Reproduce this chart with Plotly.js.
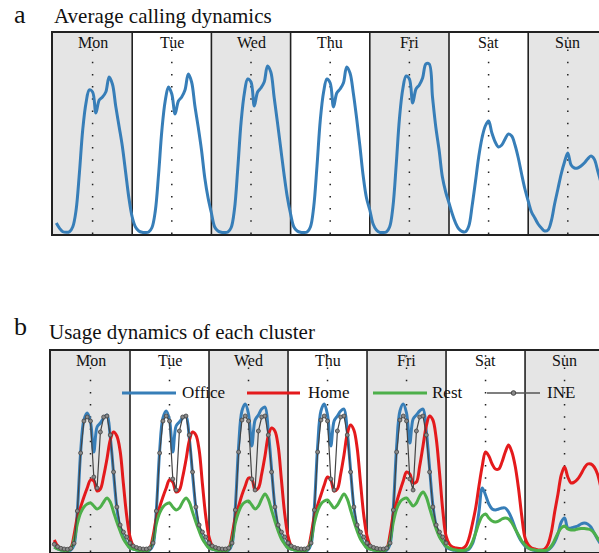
<!DOCTYPE html>
<html><head><meta charset="utf-8">
<script src="https://cdn.plot.ly/plotly-3.0.1.min.js"></script>
<style>html,body{margin:0;padding:0;background:#fff}#chart{width:599px;height:553px}</style>
</head><body><div id="chart"></div>
<script>
// ---------- categories ----------
const days = ['Mon','Tue','Wed','Thu','Fri','Sat','Sun'];
const hourSlots = [1,2,3,4,5,6,7,8,9,10,11,12,13,14,15,16,17,18,19,20,21,22,23,24];

// ---------- panel a: average calling dynamics (hourly, arbitrary units) ----------
const callMon = [11,5.7,2.3,1.7,2.3,7.3,24,61,104,131,144,142,121,134,137,142,157,150,128,108,88,62,36,17];
const callTue = [7,3,1.7,1.5,2,6.5,23,60,104,133,147,140,120,133,137,144,160,152,128,107,84,56,36,21];
const callWed = [7,3,1.7,1.5,2,6.5,25,66,112,141,155,152,128,142,146,152,168,162,137,112,86,60,37,20];
const callThu = [7,3,1.7,1.5,2,7,27,68,114,142,155,151,127,141,145,151,167,161,141,116,88,58,36,24];
const callFri = [10,4,1.7,1.5,2,7,27,69,116,145,158,155,131,145,149,156,170,170,137,107,84,57,42,31];
const callSat = [20,11,5,2.5,2.3,8,28,52,77,96,108,113,101,92,87,89,95,100,98,89,76,60,45,33];
const callSun = [22,16,10,6,3,4,13,30,45,60,72,81,69,66,66,68,71,75,78,75,64,52,40,28];

// ---------- panel b: usage dynamics of each cluster ----------
const officeMon = [5,3,2,1.5,1,2,7,41,100,132,139,130,100,125,129,134,137,115,79,44,24,15,9,4];
const officeTue = [3,2,1.5,1,1,2,7,42,101,134,141,132,100,126,130,134,136,114,78,44,24,15,9,4];
const officeWed = [3,2,1.5,1,1,2,8,45,106,141,148,138,106,132,137,143,145,121,83,46,25,15,9,4];
const officeThu = [3,2,1.5,1,1,2,8,45,106,141,148,137,106,131,136,141,143,120,82,45,25,15,9,4];
const officeFri = [3,2,1.5,1,1,2,8,45,106,141,148,139,109,133,137,141,143,121,84,47,26,16,10,5];
const officeSat = [3,2,1.5,1,1,1.5,3,8,20,40,64,57,48,43,42,43,44,44,40,33,24,16,10,6];
const officeSun = [4,2.5,1.5,1,1,1,2,5,10,18,30,34,24,24,25,26,28,29,28,25,19,13,8,5];

const homeMon = [12,6,3,2,2,4,17,35,45,55,64,72,71,61,63,76,93,112,120,116,101,68,36,15];
const homeTue = [6,3,2,1.5,1.5,3.5,16,34,45,55,64,72,70,60,62,75,92,111,120,117,102,68,36,15];
const homeWed = [6,3,2,1.5,1.5,3.5,17,35,46,57,66,74,73,62,64,78,96,116,124,121,106,72,38,16];
const homeThu = [6,3,2,1.5,1.5,3.5,17,36,47,57,67,75,72,61,63,78,97,118,127,122,104,70,37,16];
const homeFri = [6,3,2,1.5,1.5,3.5,18,38,50,61,71,80,78,69,70,86,106,126,136,132,114,80,42,16];
const homeSat = [8,5,4,3.5,3.5,6,14,28,44,66,86,100,96,88,83,83,90,100,107,100,86,64,36,14];
const homeSun = [7,4,3,2,2,3,8,20,40,58,77,85,75,69,70,73,78,84,88,88,85,78,65,50];

const restMon = [5,3,2,1.5,1.5,3,12,28,39,45,48,49,46,43,45,50,54,50,40,30,21,13,8,4];
const restTue = [3,2,1.5,1.2,1.2,3,11,28,39,45,48,49,45,42,44,50,54,50,40,30,21,13,8,4];
const restWed = [3,2,1.5,1.2,1.2,3,12,29,40,47,50,51,47,43,46,53,58,53,42,31,21,13,8,4];
const restThu = [3,2,1.5,1.2,1.2,3,12,29,41,48,51,52,48,44,47,53,58,53,42,31,21,13,8,4];
const restFri = [3,2,1.5,1.2,1.2,3,12,30,43,50,53,54,50,46,49,56,60,55,44,33,23,15,10,6];
const restSat = [4,2.5,2,1.5,1.5,2,4,10,19,29,36,38,34,31,30,31,33,34,33,29,23,17,11,7];
const restSun = [4,2.5,2,1.5,1.5,1.5,2.5,6,12,19,24,26,23,22,22,23,23.5,23.5,23,22,19,14,10,6];

const ineMon = [7.7,5.3,3.7,3,2.7,3.7,8.7,41,99,131,135,131,75,64,120,135,136,117,80,45,27,20,15,9];
const ineTue = [6,4.5,3.5,3,3,4,9,41,99,131,136,131,73,62,121,135,136,117,80,45,27,20,15,9];
const ineWed = [6,4.5,3.5,3,3,4,9,42,100,132,136,131,73,62,121,135,136,117,80,45,27,20,15,9];
const ineThu = [6,4.5,3.5,3,3,4,9,42,100,132,136,131,73,62,121,135,136,117,80,45,27,20,15,9];
const ineFri = [6,4.5,3.5,3,3,4,9,42,100,132,136,131,73,62,121,135,136,117,80,45,27,20,15,9];

const seriesNames = ['Office','Home','Rest','INE'];
const seriesColors = ['#377eb8','#e41a1c','#4daf4a','#555555'];

// ---------- helpers ----------
function week(arrs){
  const x = [], y = [];
  arrs.forEach((a, d) => a.forEach((v, i) => { x.push(d*24 + hourSlots[i]); y.push(v); }));
  return {x, y};
}
const W = 599, H = 553;
const serif = '"Liberation Serif","Times New Roman","DejaVu Serif",serif';

const callW = week([callMon,callTue,callWed,callThu,callFri,callSat,callSun]);
const officeW = week([officeMon,officeTue,officeWed,officeThu,officeFri,officeSat,officeSun]);
const homeW = week([homeMon,homeTue,homeWed,homeThu,homeFri,homeSat,homeSun]);
const restW = week([restMon,restTue,restWed,restThu,restFri,restSat,restSun]);
const ineW = week([ineMon,ineTue,ineWed,ineThu,ineFri]);

const traces = [
  {x: callW.x, y: callW.y, xaxis:'x', yaxis:'y', mode:'lines', line:{color:seriesColors[0], width:3, shape:'spline', smoothing:1}, showlegend:false, hoverinfo:'skip'},
  {x: officeW.x, y: officeW.y, xaxis:'x2', yaxis:'y2', mode:'lines', name:seriesNames[0], line:{color:seriesColors[0], width:3, shape:'spline', smoothing:1}, showlegend:false},
  {x: homeW.x, y: homeW.y, xaxis:'x2', yaxis:'y2', mode:'lines', name:seriesNames[1], line:{color:seriesColors[1], width:3, shape:'spline', smoothing:1}, showlegend:false},
  {x: restW.x, y: restW.y, xaxis:'x2', yaxis:'y2', mode:'lines', name:seriesNames[2], line:{color:seriesColors[2], width:3, shape:'spline', smoothing:1}, showlegend:false},
  {x: ineW.x, y: ineW.y, xaxis:'x2', yaxis:'y2', mode:'lines+markers', name:seriesNames[3], line:{color:'#444', width:1.2}, marker:{symbol:'circle', size:4, color:'#8a8a8a', line:{color:'#444', width:0.8}}, showlegend:false}
];

// ---------- shapes ----------
const shapes = [];
const panels = [{xr:'x', yr:'y domain'}, {xr:'x2', yr:'y2 domain'}];
panels.forEach(p => {
  days.forEach((d, i) => {
    if (i % 2 === 0) shapes.push({type:'rect', xref:p.xr, yref:p.yr, x0:i*24, x1:i*24+24, y0:0, y1:1, fillcolor:'#e5e5e5', line:{width:0}, layer:'below'});
  });
  days.forEach((d, i) => {
    shapes.push({type:'line', xref:p.xr, yref:p.yr, x0:i*24+12, x1:i*24+12, y0:0, y1:1, line:{color:'#222', width:1.5, dash:'1.5px,10.7px'}, layer:'below'});
    if (i > 0) shapes.push({type:'line', xref:p.xr, yref:p.yr, x0:i*24, x1:i*24, y0:0, y1:1, line:{color:'#222', width:1.6}, layer:'below'});
  });
});

// legend (drawn in page pixels)
const legLineX = [[122,176],[247,300],[373,427],[487,540]];
const legTextX = [180,306,430,545];
const legY = 393;
const annotations = [];
seriesNames.forEach((n, i) => {
  shapes.push({type:'line', xref:'paper', yref:'paper', x0:legLineX[i][0]/W, x1:legLineX[i][1]/W, y0:1-legY/H, y1:1-legY/H,
    line:{color: i===3 ? '#555' : seriesColors[i], width: i===3 ? 1.3 : 3}});
  annotations.push({xref:'paper', yref:'paper', x:legTextX[i]/W, y:1-392.6/H, xanchor:'left', yanchor:'middle', text:n, showarrow:false, font:{family:serif, size:17, color:'#111'}});
});
const mx = (legLineX[3][0]+legLineX[3][1])/2;
shapes.push({type:'circle', xref:'paper', yref:'paper', x0:(mx-2.3)/W, x1:(mx+2.3)/W, y0:1-(legY+2.3)/H, y1:1-(legY-2.3)/H, fillcolor:'#8a8a8a', line:{color:'#444', width:1}});

// day labels
days.forEach((d, i) => {
  annotations.push({xref:'x', yref:'y domain', x:i*24+12, y:0.951, text:d, showarrow:false, yanchor:'middle', font:{family:serif, size:16, color:'#111'}});
  annotations.push({xref:'x2', yref:'y2 domain', x:i*24+12, y:0.954, text:d, showarrow:false, yanchor:'middle', font:{family:serif, size:16, color:'#111'}});
});

// panel letters and titles
annotations.push({xref:'paper', yref:'paper', x:12/W, y:1-14.2/H, xanchor:'left', yanchor:'middle', text:'a', showarrow:false, font:{family:serif, size:26, color:'#111'}});
annotations.push({xref:'paper', yref:'paper', x:52/W, y:1-16.2/H, xanchor:'left', yanchor:'middle', text:'Average calling dynamics', showarrow:false, font:{family:serif, size:21, color:'#111'}});
annotations.push({xref:'paper', yref:'paper', x:12/W, y:1-326.2/H, xanchor:'left', yanchor:'middle', text:'b', showarrow:false, font:{family:serif, size:26, color:'#111'}});
annotations.push({xref:'paper', yref:'paper', x:47/W, y:1-332.2/H, xanchor:'left', yanchor:'middle', text:'Usage dynamics of each cluster', showarrow:false, font:{family:serif, size:21, color:'#111'}});

const axX = {showgrid:false, zeroline:false, showticklabels:false, ticks:'', showline:true, mirror:true, linecolor:'#222', linewidth:1.6, fixedrange:true};
const axY = {showgrid:false, zeroline:false, showticklabels:false, ticks:'', showline:true, mirror:false, linecolor:'#222', linewidth:1.6, fixedrange:true, range:[0,201]};

const layout = {
  width:W, height:H,
  margin:{l:0, r:0, t:0, b:0, pad:0},
  paper_bgcolor:'#fff', plot_bgcolor:'#fff',
  font:{family:serif},
  showlegend:false,
  xaxis: Object.assign({}, axX, {domain:[53/W, 1], range:[0, (W-53)/3.3], anchor:'y'}),
  yaxis: Object.assign({}, axY, {domain:[1-234/H, 1-33/H], anchor:'x'}),
  xaxis2: Object.assign({}, axX, {domain:[51/W, 1], range:[0, (W-51)/3.292], anchor:'y2'}),
  yaxis2: Object.assign({}, axY, {domain:[1-552/H, 1-351/H], anchor:'x2'}),
  shapes, annotations
};

Plotly.newPlot('chart', traces, layout, {displayModeBar:false, staticPlot:true});
</script>
</body></html>
